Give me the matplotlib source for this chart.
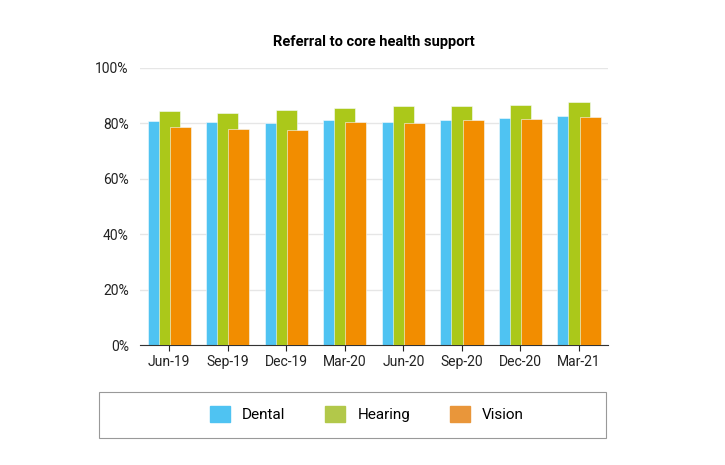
import matplotlib
matplotlib.use("Agg")
import matplotlib.pyplot as plt
import numpy as np
from matplotlib.patches import Patch
from matplotlib.ticker import PercentFormatter

plt.rcParams["font.family"] = "Roboto"

categories = ["Jun-19", "Sep-19", "Dec-19", "Mar-20", "Jun-20", "Sep-20", "Dec-20", "Mar-21"]
dental = [80.8, 80.5, 80.1, 81.1, 80.4, 81.3, 82.0, 82.7]
hearing = [84.5, 83.6, 84.9, 85.4, 86.2, 86.4, 86.6, 87.6]
vision = [78.7, 78.1, 77.6, 80.3, 80.0, 81.3, 81.7, 82.3]

fig = plt.figure(figsize=(7.25, 4.65), dpi=100)
ax = fig.add_axes([0.193, 0.258, 0.646, 0.596])
x = np.arange(len(categories))
w = 0.36
off = 0.19
ax.bar(x - off, dental, w, color="#4FC3F2", edgecolor="#F5FBFE", linewidth=0.4, zorder=2)
ax.bar(x, hearing, w, color="#ABC81A", edgecolor="#F5FBFE", linewidth=0.4, zorder=3)
ax.bar(x + off, vision, w, color="#F28D00", edgecolor="#F5FBFE", linewidth=0.4, zorder=4)

ax.set_ylim(0, 100)
ax.set_xlim(-0.5, len(categories) - 0.5)
ax.set_yticks(range(0, 101, 20))
ax.yaxis.set_major_formatter(PercentFormatter(decimals=0))
ax.set_xticks(x)
ax.set_xticklabels(categories)
ax.grid(axis="y", color="#E6E6E6", linewidth=1, zorder=0)
for s in ["top", "right", "left"]:
    ax.spines[s].set_visible(False)
ax.spines["bottom"].set_color("#333333")
ax.tick_params(axis="y", length=0, labelsize=10, colors="#222222", pad=8)
ax.tick_params(axis="x", length=4, labelsize=10, colors="#222222")
ax.set_title("Referral to core health support", fontsize=10.5, fontweight="bold", pad=16)

handles = [Patch(color="#4FC3F2"), Patch(color="#B2C84A"), Patch(color="#E9963A")]
leg = fig.legend(handles, ["Dental", "Hearing", "Vision"], loc="center",
                 bbox_to_anchor=(0.506, 0.11), ncol=3, fontsize=11, frameon=True,
                 fancybox=False, edgecolor="#999999", handlelength=1.3, handleheight=1.3,
                 columnspacing=2.6, borderpad=0.9)
leg.get_frame().set_visible(False)
fig.patches.append(plt.Rectangle((99/725, 1-438/465), 507/725, 46/465, transform=fig.transFigure,
                                 fill=False, edgecolor="#999999", linewidth=0.8))
fig.savefig("out.png", dpi=100)
